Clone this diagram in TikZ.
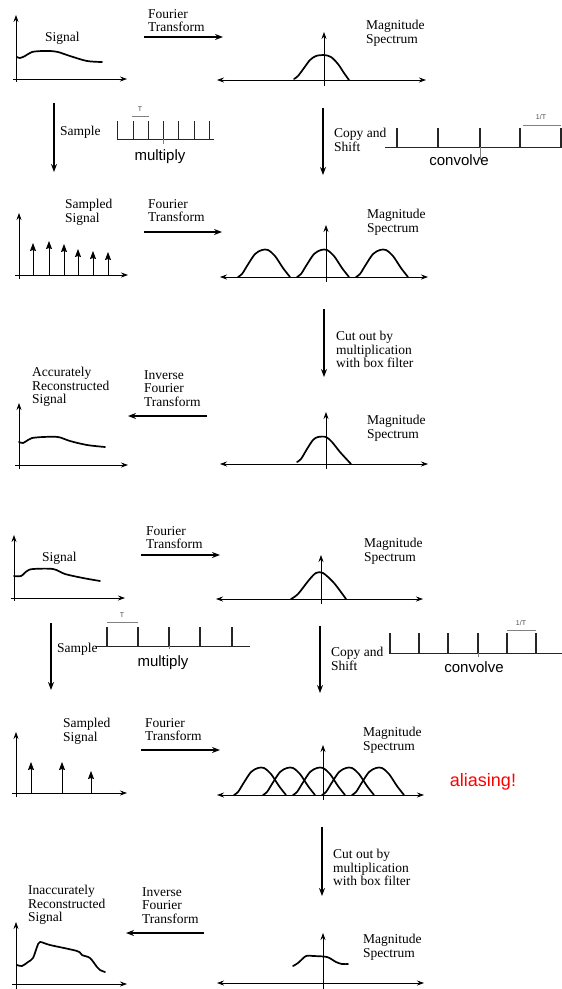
\documentclass[tikz,border=0pt]{standalone}
\usepackage{fontspec}
\setmainfont{Liberation Serif}
\setsansfont{Liberation Sans}
\usetikzlibrary{arrows.meta}
\tikzstyle{lbl} = [inner sep=0pt, anchor=north west, align=left, font=\fontsize{13.5}{13.5}\selectfont]
\tikzstyle{sanslbl} = [inner sep=0pt, anchor=north, font=\sffamily\fontsize{15}{16}\selectfont]
\tikzstyle{tinylbl} = [inner sep=0pt, font=\sffamily\fontsize{7}{7}\selectfont, black!70]
\tikzstyle{flow} = [-{Stealth[length=8pt,width=6pt]}, line width=1.3pt]
\tikzstyle{axis} = [-{Stealth[length=7pt,width=5pt]}, line width=0.8pt]
\tikzstyle{axis2} = [{Stealth[length=7pt,width=5pt]}-{Stealth[length=7pt,width=5pt]}, line width=0.8pt]
\tikzstyle{curve} = [line width=1.7pt, line join=round, line cap=round]
\tikzstyle{comb} = [line width=0.9pt, black!85]
\tikzstyle{gap} = [line width=0.4pt, black!50]
\tikzstyle{impulse} = [-{Stealth[length=8pt,width=6pt,inset=1pt]}, line width=0.9pt]

\begin{document}
\begin{tikzpicture}[x=1pt,y=-1pt]
  \useasboundingbox (0,0) rectangle (562,989);

  % good sampling
  \draw[axis] (16,82) -- (16,15);
  \draw[axis] (13,79) -- (127,79);
  \draw[curve] plot[smooth, tension=0.5] coordinates {(17,57) (20,58) (25,56) (32,52) (42,51) (50,51) (58,52) (70,56) (87,61) (102,62)};
  \node[lbl] (sig_a) at (45,32) {Signal};

  \node[lbl] (ft_a) at (148,9) {Fourier\\Transform};
  \coordinate (ft_a_s) at (144,37);
  \coordinate (ft_a_e) at (223,37);
  \draw[flow] (ft_a_s) -- (ft_a_e);

  \draw[axis2] (217,80) -- (426,80);
  \draw[axis] (324,86) -- (324,32);
  \draw[curve] plot[smooth, tension=0.5] coordinates {(294,79) (298,76) (304,68) (310,60) (316,56) (324,55) (331,57) (338,64) (344,73) (349,80)};
  \node[lbl] (mag_a) at (366,20) {Magnitude\\Spectrum};

  \coordinate (smp_a_s) at (54,103);
  \coordinate (smp_a_e) at (54,172);
  \draw[flow] (smp_a_s) -- (smp_a_e);
  \node[lbl] (smp_a) at (60,126) {Sample};
  \draw[comb] (117,139) -- (214,139);
  \foreach \x in {117,133,148,163,178,194,209}
    \draw[comb] (\x,139) -- (\x,121);
  \draw[gap] (163,139) -- (163,144);
  \draw[gap] (132,116) -- (149,116);
  \node[tinylbl] (per_a) at (140,109) {T};
  \node[sanslbl] (mul_a) at (160,149) {multiply};

  \coordinate (cpy_a_s) at (323,108);
  \coordinate (cpy_a_e) at (323,175);
  \draw[flow] (cpy_a_s) -- (cpy_a_e);
  \node[lbl] (cpy_a) at (334,128) {Copy and\\Shift};
  \draw[comb] (385,147) -- (562,147);
  \foreach \x in {397,438,480,520,561}
    \draw[comb, line width=1.3pt] (\x,147) -- (\x,128);
  \draw[gap] (480,147) -- (480,160);
  \draw[gap] (523,125) -- (561,125);
  \node[tinylbl] (frq_a) at (541,117) {1/T};
  \node[sanslbl] (cnv_a) at (459,154) {convolve};

  \draw[axis] (19,279) -- (19,213);
  \draw[axis] (15,275) -- (128,275);
  \draw[impulse] (33,275) -- (33,243);
  \draw[impulse] (49,275) -- (49,241);
  \draw[impulse] (64,275) -- (64,244);
  \draw[impulse] (78,275) -- (78,249);
  \draw[impulse] (93,275) -- (93,251);
  \draw[impulse] (108,275) -- (108,252);
  \node[lbl] (ssig_b) at (65,199) {Sampled\\Signal};

  \node[lbl] (ft_b) at (148,199) {Fourier\\Transform};
  \coordinate (ft_b_s) at (144,232);
  \coordinate (ft_b_e) at (222,232);
  \draw[flow] (ft_b_s) -- (ft_b_e);

  \draw[axis2] (220,277) -- (428,277);
  \draw[axis] (326,282) -- (326,225);
  \foreach \c in {265,324,383}
    \draw[curve, shift={(\c,277)}] plot[smooth, tension=0.5] coordinates {(-27,0) (-23,-3) (-18,-11) (-10,-23) (-3,-27) (3,-27) (10,-21) (18,-9) (25,0)};
  \node[lbl] (mag_b) at (367,209) {Magnitude\\Spectrum};

  \coordinate (cut_b_s) at (324,309);
  \coordinate (cut_b_e) at (324,377);
  \draw[flow] (cut_b_s) -- (cut_b_e);
  \node[lbl] (cut_b) at (336,331) {Cut out by\\multiplication\\with box filter};

  \draw[axis2] (220,464) -- (428,464);
  \draw[axis] (326,469) -- (326,412);
  \draw[curve] plot[smooth, tension=0.5] coordinates {(297,462) (301,459) (307,449) (313,440) (318,437) (326,437) (332,442) (340,452) (351,464)};
  \node[lbl] (mag_c) at (367,415) {Magnitude\\Spectrum};

  \node[lbl] (ift_c) at (144,370) {Inverse\\Fourier\\Transform};
  \coordinate (ift_c_s) at (207,416);
  \coordinate (ift_c_e) at (128,416);
  \draw[flow] (ift_c_s) -- (ift_c_e);

  \draw[axis] (19,469) -- (19,403);
  \draw[axis] (15,465) -- (128,465);
  \draw[curve] plot[smooth, tension=0.5] coordinates {(19,442) (23,443) (28,440) (32,438) (43,437) (58,437) (70,441) (87,445) (105,447)};
  \node[lbl] (rec_c) at (32,367) {Accurately\\Reconstructed\\Signal};

  % undersampling
  \draw[axis] (14,601) -- (14,535);
  \draw[axis] (11,598) -- (125,598);
  \draw[curve] plot[smooth, tension=0.5] coordinates {(14,576) (21,576) (27,571) (33,569) (53,569) (65,574) (83,578) (100,581)};
  \node[lbl] (sig_d) at (42,552) {Signal};

  \node[lbl] (ft_d) at (146,526) {Fourier\\Transform};
  \coordinate (ft_d_s) at (141,555);
  \coordinate (ft_d_e) at (220,555);
  \draw[flow] (ft_d_s) -- (ft_d_e);

  \draw[axis2] (216,599) -- (423,599);
  \draw[axis] (321,604) -- (321,555);
  \draw[curve] plot[smooth, tension=0.5] coordinates {(291,599) (298,594) (309,580) (316,573) (323,573) (334,583) (346,599)};
  \node[lbl] (mag_d) at (364,538) {Magnitude\\Spectrum};

  \coordinate (smp_d_s) at (51,623);
  \coordinate (smp_d_e) at (51,690);
  \draw[flow] (smp_d_s) -- (smp_d_e);
  \node[lbl] (smp_d) at (57,643) {Sample};
  \draw[comb] (95,646) -- (250,646);
  \foreach \x in {107,138,169,200,232}
    \draw[comb, line width=1.3pt] (\x,646) -- (\x,627);
  \draw[gap] (169,646) -- (169,649);
  \draw[gap] (107,622) -- (138,622);
  \node[tinylbl] (per_d) at (122,615) {T};
  \node[sanslbl] (mul_d) at (163,655) {multiply};

  \coordinate (cpy_d_s) at (320,626);
  \coordinate (cpy_d_e) at (320,693);
  \draw[flow] (cpy_d_s) -- (cpy_d_e);
  \node[lbl] (cpy_d) at (331,647) {Copy and\\Shift};
  \draw[comb] (389,653) -- (562,653);
  \foreach \x in {390,419,448,478,507,536}
    \draw[comb, line width=1.3pt] (\x,653) -- (\x,633);
  \draw[gap] (478,653) -- (478,657);
  \draw[gap] (507,630) -- (536,630);
  \node[tinylbl] (frq_d) at (521,623) {1/T};
  \node[sanslbl] (cnv_d) at (474,661) {convolve};

  \draw[axis] (16,797) -- (16,732);
  \draw[axis] (12,793) -- (127,793);
  \draw[impulse] (31,793) -- (31,762);
  \draw[impulse] (62,793) -- (62,762);
  \draw[impulse] (91,793) -- (91,771);
  \node[lbl] (ssig_e) at (63,718) {Sampled\\Signal};

  \node[lbl] (ft_e) at (145,718) {Fourier\\Transform};
  \coordinate (ft_e_s) at (141,750);
  \coordinate (ft_e_e) at (220,750);
  \draw[flow] (ft_e_s) -- (ft_e_e);

  \draw[axis2] (217,795) -- (424,795);
  \draw[axis] (323,800) -- (323,745);
  \foreach \c in {261,290,320,349,379}
    \draw[curve, shift={(\c,795)}] plot[smooth, tension=0.5] coordinates {(-27,0) (-23,-3) (-18,-11) (-10,-23) (-3,-27) (3,-27) (10,-21) (18,-9) (25,0)};
  \node[lbl] (mag_e) at (363,727) {Magnitude\\Spectrum};
  \node[font=\sffamily\fontsize{18}{20}\selectfont, text=red, inner sep=0pt] (alias_e) at (483,782) {aliasing!};

  \coordinate (cut_e_s) at (322,827);
  \coordinate (cut_e_e) at (322,896);
  \draw[flow] (cut_e_s) -- (cut_e_e);
  \node[lbl] (cut_e) at (333,849) {Cut out by\\multiplication\\with box filter};

  \draw[axis2] (217,983) -- (424,983);
  \draw[axis] (323,989) -- (323,933);
  \draw[curve] plot[smooth, tension=0.5] coordinates {(293,966) (298,963) (306,956) (313,956) (327,957) (336,962) (342,964) (348,964)};
  \node[lbl] (mag_f) at (363,934) {Magnitude\\Spectrum};

  \node[lbl] (ift_f) at (142,887) {Inverse\\Fourier\\Transform};
  \coordinate (ift_f_s) at (204,933);
  \coordinate (ift_f_e) at (126,933);
  \draw[flow] (ift_f_s) -- (ift_f_e);

  \draw[axis] (16,989) -- (16,922);
  \draw[axis] (12,984) -- (127,984);
  \draw[curve] plot[smooth, tension=0.5] coordinates {(17,965) (22,966) (28,962) (33,958) (37,947) (40,942) (50,945) (77,951) (82,955) (90,958) (97,967) (100,970) (105,972)};
  \node[lbl] (rec_f) at (28,885) {Inaccurately\\Reconstructed\\Signal};
\end{tikzpicture}
\end{document}
